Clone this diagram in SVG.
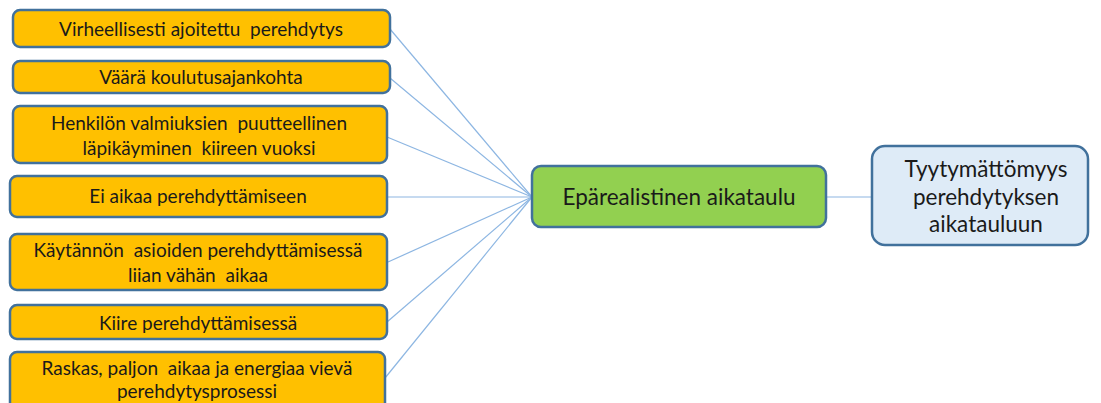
<svg xmlns="http://www.w3.org/2000/svg" width="1101" height="403" viewBox="0 0 1101 403">
  <style>
    .cause rect { fill: #FFC000; stroke: #41719C; stroke-width: 2.5; }
    .core rect { fill: #92D050; stroke: #41719C; stroke-width: 2.5; }
    .effect rect { fill: #DEEBF7; stroke: #41719C; stroke-width: 2.5; }
    text { font-family: Lato, "Liberation Sans", sans-serif; fill: #1a1a1a; text-anchor: middle; white-space: pre; }
    .cause text { font-size: 19px; }
    .core text, .effect text { font-size: 22.5px; }
    #connectors line { stroke: #8DB6E2; stroke-width: 1.2; }
  </style>
  <rect width="1101" height="403" fill="#ffffff"/>

  <!-- spokes from each cause into the central node, and the link to the effect -->
  <g id="connectors">
    <line x1="390" y1="29" x2="532" y2="197"/>
    <line x1="390" y1="78" x2="532" y2="197"/>
    <line x1="387" y1="137" x2="532" y2="197"/>
    <line x1="387" y1="197" x2="532" y2="197"/>
    <line x1="388" y1="262" x2="532" y2="197"/>
    <line x1="387" y1="322" x2="532" y2="197"/>
    <line x1="385" y1="378" x2="532" y2="197"/>
    <line x1="826" y1="197" x2="872" y2="197"/>
  </g>

  <g id="cause1" class="cause">
    <rect x="13" y="10" width="377" height="37" rx="7"/>
    <text x="201" y="36">Virheellisesti ajoitettu&#160; perehdytys</text>
  </g>
  <g id="cause2" class="cause">
    <rect x="13" y="61" width="377" height="32" rx="7"/>
    <text x="201" y="84">Väärä koulutusajankohta</text>
  </g>
  <g id="cause3" class="cause">
    <rect x="13" y="106" width="374" height="57" rx="7"/>
    <text x="199" y="130">Henkilön valmiuksien&#160; puutteellinen</text>
    <text x="199" y="155">läpikäyminen&#160; kiireen vuoksi</text>
  </g>
  <g id="cause4" class="cause">
    <rect x="10" y="176" width="377" height="41" rx="7"/>
    <text x="198" y="203">Ei aikaa perehdyttämiseen</text>
  </g>
  <g id="cause5" class="cause">
    <rect x="10" y="234" width="377" height="56" rx="7"/>
    <text x="198" y="257">Käytännön&#160; asioiden perehdyttämisessä</text>
    <text x="198" y="282">liian vähän&#160; aikaa</text>
  </g>
  <g id="cause6" class="cause">
    <rect x="10" y="305" width="377" height="34" rx="7"/>
    <text x="198" y="330">Kiire perehdyttämisessä</text>
  </g>
  <g id="cause7" class="cause">
    <rect x="10" y="352" width="375" height="60" rx="7"/>
    <text x="197" y="375">Raskas, paljon&#160; aikaa ja energiaa vievä</text>
    <text x="197" y="398">perehdytysprosessi</text>
  </g>

  <g id="core" class="core">
    <rect x="532" y="166" width="294" height="61" rx="9"/>
    <text x="679" y="205">Epärealistinen aikataulu</text>
  </g>

  <g id="effect" class="effect">
    <rect x="872" y="146" width="216" height="99" rx="13"/>
    <text x="986" y="177">Tyytymättömyys</text>
    <text x="986" y="205">perehdytyksen</text>
    <text x="986" y="232">aikatauluun</text>
  </g>
</svg>
